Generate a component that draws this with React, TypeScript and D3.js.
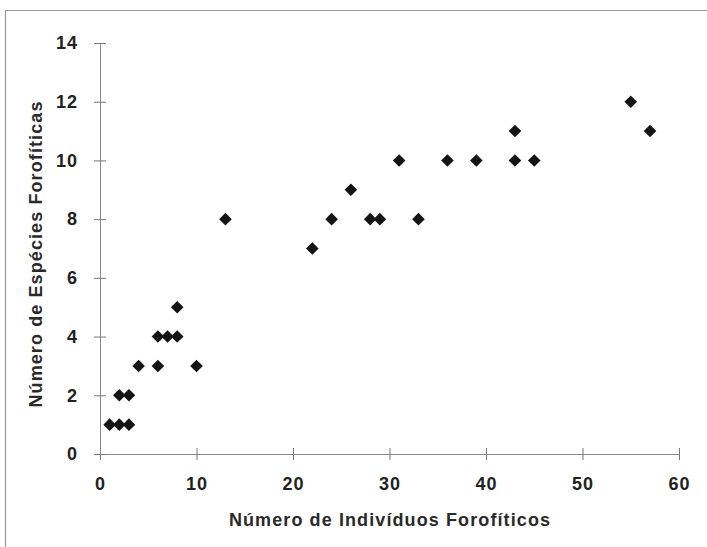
import React, { useEffect, useRef } from 'react';
import * as d3 from 'd3';

// número de indivíduos forofíticos (x) vs número de espécies forofíticas (y)
const individuos = [1, 2, 3, 2, 3, 4, 6, 6, 7, 8, 8, 10, 13, 22, 24, 26, 28, 29, 31, 33, 36, 39, 43, 43, 45, 55, 57];
const especies = [1, 1, 1, 2, 2, 3, 3, 4, 4, 4, 5, 3, 8, 7, 8, 9, 8, 8, 10, 8, 10, 10, 11, 10, 10, 12, 11];
const xTicks = [0, 10, 20, 30, 40, 50, 60];
const yTicks = [0, 2, 4, 6, 8, 10, 12, 14];

const W = 707;
const H = 547;
const margin = { left: 100, right: 28, top: 43, bottom: 93 };

const App = () => {
  const svgRef = useRef<SVGSVGElement>(null);

  useEffect(() => {
    const svg = d3.select(svgRef.current);
    svg.selectAll('*').remove();

    const x = d3.scaleLinear().domain([0, 60]).range([margin.left, W - margin.right]);
    const y = d3.scaleLinear().domain([0, 14]).range([H - margin.bottom, margin.top]);

    svg.append('rect').attr('width', W).attr('height', H).attr('fill', '#fff');

    // scanned frame: only top and left edges show
    svg.append('path')
      .attr('d', `M5.5,${H} V10.5 H${W}`)
      .attr('fill', 'none')
      .attr('stroke', '#999')
      .attr('stroke-width', 1.2);

    const font = 'Liberation Sans, Arial, sans-serif';

    const xAxis = svg.append('g')
      .attr('transform', `translate(0,${y(0)})`)
      .call(d3.axisBottom(x).tickValues(xTicks).tickSize(6).tickPadding(14).tickSizeOuter(0));
    xAxis.select('.domain').attr('stroke', '#8a8a8a');
    xAxis.selectAll('.tick line').attr('stroke', '#777').attr('y1', -6).attr('y2', 6);
    xAxis.selectAll('.tick text')
      .attr('font-family', font).attr('font-size', 18).attr('font-weight', 'bold')
      .attr('letter-spacing', 1)
      .attr('fill', '#222').attr('dy', '0.9em');

    const yAxis = svg.append('g')
      .attr('transform', `translate(${x(0)},0)`)
      .call(d3.axisLeft(y).tickValues(yTicks).tickSize(6).tickPadding(16).tickSizeOuter(0));
    yAxis.select('.domain').attr('stroke', '#8a8a8a');
    yAxis.selectAll('.tick line').attr('stroke', '#777').attr('x1', -6).attr('x2', 6);
    yAxis.selectAll('.tick text')
      .attr('font-family', font).attr('font-size', 18).attr('font-weight', 'bold')
      .attr('letter-spacing', 1)
      .attr('fill', '#222');

    const diamond = 'M0,-6.3 L6.3,0 L0,6.3 L-6.3,0 Z';
    svg.append('g')
      .selectAll('path')
      .data(individuos.map((d, i) => [d, especies[i]]))
      .enter()
      .append('path')
      .attr('d', diamond)
      .attr('transform', (d) => `translate(${x(d[0])},${y(d[1])})`)
      .attr('fill', '#141414');

    svg.append('text')
      .attr('x', 390).attr('y', 526)
      .attr('text-anchor', 'middle')
      .attr('font-family', font).attr('font-size', 18).attr('font-weight', 'bold')
      .attr('letter-spacing', 1.1)
      .attr('fill', '#2a2a2a')
      .text('Número de Indivíduos Forofíticos');

    svg.append('text')
      .attr('transform', 'translate(42,254) rotate(-90)')
      .attr('text-anchor', 'middle')
      .attr('font-family', font).attr('font-size', 18).attr('font-weight', 'bold')
      .attr('letter-spacing', 1.1)
      .attr('fill', '#2a2a2a')
      .text('Número de Espécies Forofíticas');
  }, []);

  return (
    <svg ref={svgRef} width={W} height={H} style={{ position: 'absolute', left: 0, top: 0 }}></svg>
  );
};

export default App;
